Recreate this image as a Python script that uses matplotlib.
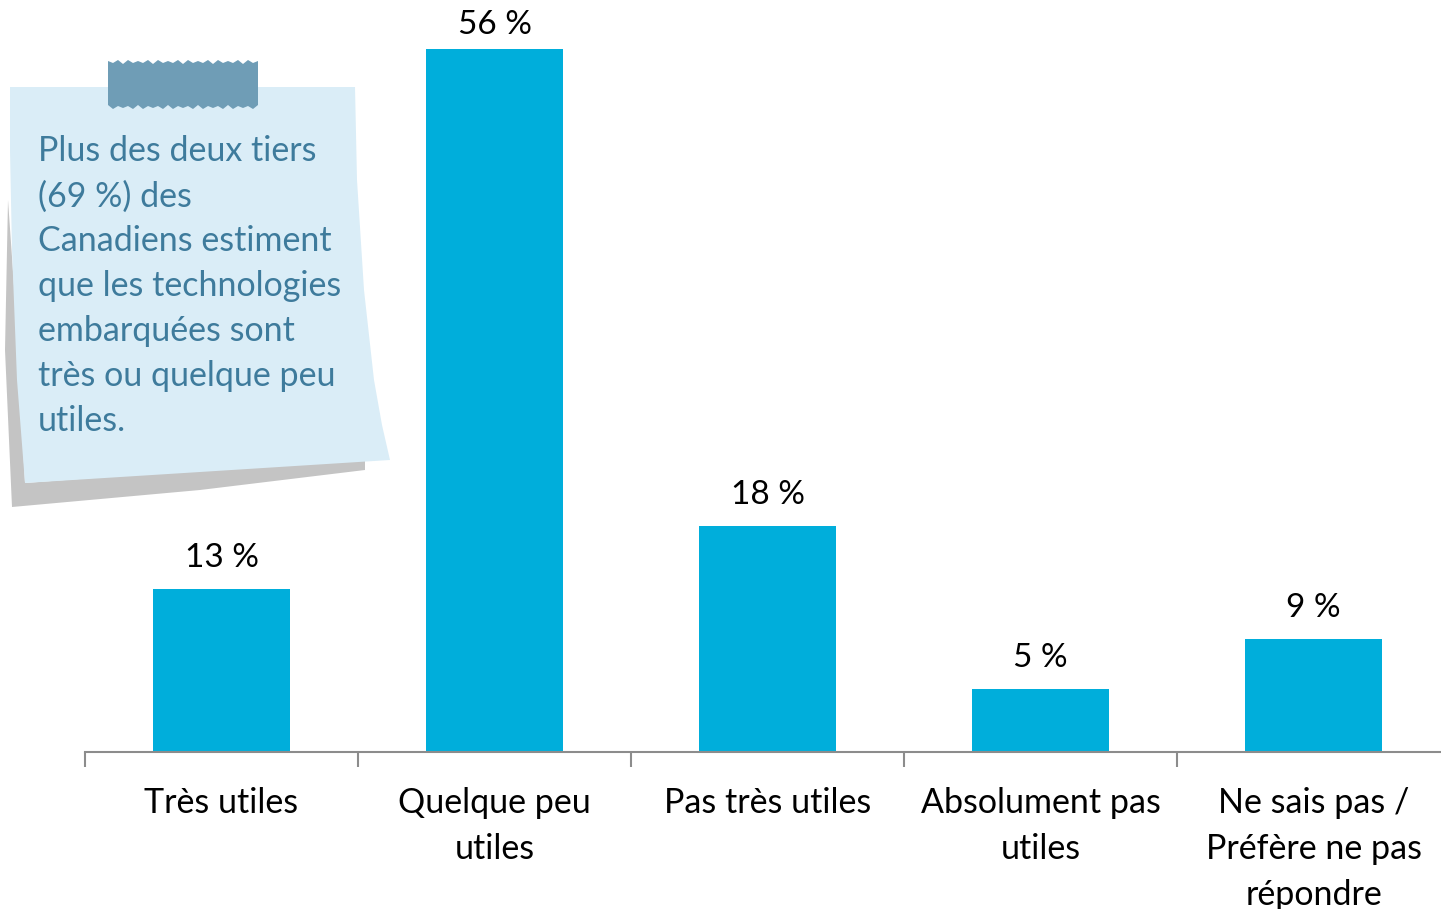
import matplotlib
matplotlib.use("Agg")
import matplotlib.pyplot as plt
from matplotlib.patches import Polygon

categories = ["Très utiles", "Quelque peu\nutiles", "Pas très utiles",
              "Absolument pas\nutiles", "Ne sais pas /\nPréfère ne pas\nrépondre"]
values = [13, 56, 18, 5, 9]
value_labels = ["13 %", "56 %", "18 %", "5 %", "9 %"]
note_text = ("Plus des deux tiers\n(69 %) des\nCanadiens estiment\n"
             "que les technologies\nembarquées sont\ntrès ou quelque peu\nutiles.")

plt.rcParams['font.family'] = ['Lato', 'DejaVu Sans']

W, H = 1441, 909
fig = plt.figure(figsize=(W / 100, H / 100), dpi=100)

# main axes in pixel terms; one category is ~273 px wide, so the axes run past the right edge
x0, ybase, cat_w = 85, 752, 273
ax = fig.add_axes([x0 / W, (H - ybase) / H, 5 * cat_w / W, ybase / H])
px_per_pct = 703 / 56
ymax = ybase / px_per_pct
ax.set_ylim(0, ymax)
ax.set_xlim(-0.5, len(categories) - 0.5)

pos = list(range(len(categories)))
ax.bar(pos, values, width=0.5, color="#00AEDB", zorder=2)
for p, v, lab in zip(pos, values, value_labels):
    ax.text(p, min(v + 2.45, ymax - 2.0), lab, ha="center", va="center",
            fontsize=24, color="black")

for s in ["top", "right", "left"]:
    ax.spines[s].set_visible(False)
ax.spines["bottom"].set_color("#8c8c8c")
ax.spines["bottom"].set_linewidth(1.5)
ax.set_yticks([])
ax.set_xticks([p - 0.5 for p in pos] + [len(pos) - 0.5])
ax.set_xticklabels([])
ax.tick_params(axis="x", length=11, width=1.5, color="#8c8c8c")

for p, c in zip(pos, categories):
    ax.text(p, -2.8, c, ha="center", va="top", fontsize=24.5, color="black",
            linespacing=1.53, clip_on=False)

# sticky note overlay in pixel coords
ov = fig.add_axes([0, 0, 1, 1], zorder=5)
ov.set_xlim(0, W)
ov.set_ylim(H, 0)
ov.axis("off")
ov.patch.set_alpha(0)

shadow = Polygon([(8, 200), (5, 350), (12, 507), (200, 490), (365, 470),
                  (365, 458), (25, 483), (15, 300)], closed=True,
                 facecolor="#c4c4c4", edgecolor="none")
ov.add_patch(shadow)
note = Polygon([(10, 87), (355, 87), (357, 180), (364, 290), (374, 380),
                (382, 425), (390, 460), (200, 472), (25, 483), (17, 380),
                (12, 250), (10, 150)],
               closed=True, facecolor="#DAEDF7", edgecolor="none")
ov.add_patch(note)

# torn tape on top of the note
tx0, tx1, ty0, ty1 = 108, 258, 61, 107
top_edge = [(tx0 + i * 5, ty0 + (2 if i % 2 else -1) + (1 if i % 3 == 0 else 0))
            for i in range(31)]
bot_edge = [(tx1 - i * 5, ty1 + (2 if i % 2 else -1) - (1 if i % 3 == 0 else 0))
            for i in range(31)]
ov.add_patch(Polygon(top_edge + bot_edge, closed=True, facecolor="#6F9DB6",
                     edgecolor="none"))

ov.text(38, 135, note_text, ha="left", va="top", fontsize=24.5, color="#3E7B9C",
        linespacing=1.5)

fig.savefig("out.png", dpi=100)
